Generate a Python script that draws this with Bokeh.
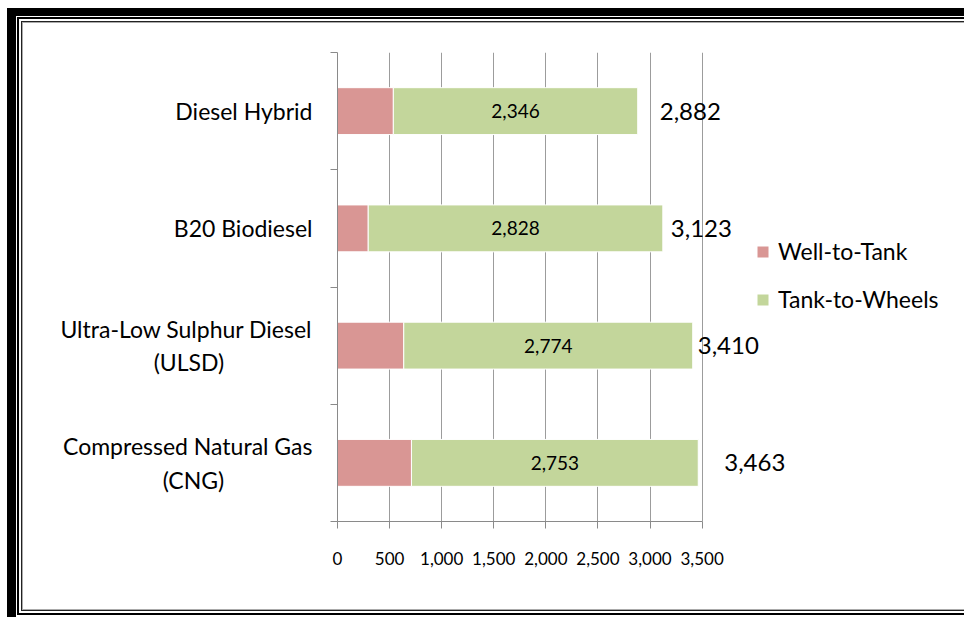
from bokeh.plotting import figure
from bokeh.models import Range1d, FixedTicker, Legend, LegendItem, ColumnDataSource
from bokeh.core.properties import value
from bokeh.embed import file_html
from bokeh.resources import INLINE

# ---- data ----
categories = [["Compressed Natural Gas", "(CNG)"],
              ["Ultra-Low Sulphur Diesel", "(ULSD)"],
              ["B20 Biodiesel"],
              ["Diesel Hybrid"]]
well_to_tank = [710, 636, 295, 536]
tank_to_wheels = [2753, 2774, 2828, 2346]
totals = [3463, 3410, 3123, 2882]
series_names = ["Well-to-Tank", "Tank-to-Wheels"]
x_ticks = [0, 500, 1000, 1500, 2000, 2500, 3000, 3500]
x_tick_labels = ["0", "500", "1,000", "1,500", "2,000", "2,500", "3,000", "3,500"]

# ---- styles ----
colors = ["#d99694", "#c3d69b"]
total_label_dx = [26, 5, 8, 22]
second_line_pad = [15, 15, 0, 0]   # no-break spaces that centre the 2nd line under the 1st
FONT = "Lato"
GRID = "#9c9c9c"
AXIS = "#8a8a8a"

def label_text(lines, pad):
    if len(lines) == 1:
        return lines[0]
    return lines[0] + "\n" + lines[1] + "\u00a0" * pad

ys = list(range(len(categories)))
src = ColumnDataSource(dict(
    y=ys,
    wtt=well_to_tank,
    ttw=tank_to_wheels,
    stack=[a + b for a, b in zip(well_to_tank, tank_to_wheels)],
    mid=[a + b / 2 for a, b in zip(well_to_tank, tank_to_wheels)],
    ttw_txt=[f"{v:,}" for v in tank_to_wheels],
    total=totals,
    total_txt=[f"{v:,}" for v in totals],
    dx=total_label_dx,
))

W, H = 964, 617
FL, FT, FB = 337, 52, 521
frame_w = W - FL
x_end = x_ticks[-1] / 364.6 * frame_w

# decorative double frame drawn as CSS background layers of the figure element
rects = [  # (x, y, w, h, color)
    (7, 8, 9, H - 8, "#000"),
    (7, 8, W - 7, 8, "#000"),
    (17, 17, 2, 598, "#000"),
    (17, 17, W - 17, 2, "#000"),
    (17, 613, W - 17, 2, "#000"),
    (21, 21, 1, 590, "#222"),
    (22, 22, 1, 588, "#aaa"),
    (21, 21, W - 21, 1, "#222"),
    (22, 22, W - 22, 1, "#aaa"),
    (22, 609, W - 22, 1, "#aaa"),
    (21, 610, W - 21, 1, "#222"),
]
css = {
    "background-color": "white",
    "background-image": ", ".join(f"linear-gradient({c}, {c})" for *_, c in rects),
    "background-position": ", ".join(f"{x}px {y}px" for x, y, *_ in rects),
    "background-size": ", ".join(f"{w}px {h}px" for _, _, w, h, _ in rects),
    "background-repeat": "no-repeat",
}

p = figure(width=W, height=H, output_backend="svg", toolbar_location=None,
           x_range=Range1d(0, x_end), y_range=Range1d(-0.5, len(categories) - 0.5),
           min_border_left=FL, min_border_right=0,
           min_border_top=FT, min_border_bottom=H - FB, styles=css)
p.outline_line_color = None
p.background_fill_color = "white"
p.border_fill_color = None

r1 = p.hbar(y="y", left=0, right="wtt", height=0.4, source=src,
            fill_color=colors[0], line_color="white", line_width=1)
r2 = p.hbar(y="y", left="wtt", right="stack", height=0.4, source=src,
            fill_color=colors[1], line_color="white", line_width=1)

p.text(x="mid", y="y", text="ttw_txt", source=src, text_align="center",
       text_baseline="middle", text_font=value(FONT), text_font_size="19px",
       text_color="black")
p.text(x="total", y="y", text="total_txt", x_offset="dx", source=src, text_align="left",
       text_baseline="middle", text_font=value(FONT), text_font_size="24px",
       text_color="black")

# x axis
xa = p.xaxis[0]
xa.ticker = FixedTicker(ticks=x_ticks)
xa.bounds = (x_ticks[0], x_ticks[-1])
xa.major_label_overrides = {t: l for t, l in zip(x_ticks, x_tick_labels)}
xa.major_tick_out = 7
xa.major_tick_in = 0
xa.minor_tick_line_color = None
xa.axis_line_color = AXIS
xa.major_tick_line_color = AXIS
xa.major_label_text_font = FONT
xa.major_label_text_font_size = "17px"
xa.major_label_text_color = "black"
xa.major_label_standoff = 23

p.xgrid.ticker = FixedTicker(ticks=x_ticks)
p.xgrid.grid_line_color = GRID
p.xgrid.grid_line_width = 1
p.ygrid.visible = False

# y axis
ya = p.yaxis[0]
ya.ticker = FixedTicker(ticks=ys, minor_ticks=[y - 0.5 for y in ys] + [ys[-1] + 0.5])
ya.major_label_overrides = {y: label_text(c, n) for y, c, n in zip(ys, categories, second_line_pad)}
ya.major_tick_out = 0
ya.major_tick_in = 0
ya.minor_tick_out = 7
ya.minor_tick_in = 0
ya.minor_tick_line_color = AXIS
ya.axis_line_color = AXIS
ya.major_label_text_font = FONT
ya.major_label_text_font_size = "23px"
ya.major_label_text_color = "black"
ya.major_label_standoff = 18

legend = Legend(items=[LegendItem(label=series_names[0], renderers=[r1]),
                       LegendItem(label=series_names[1], renderers=[r2])],
                location=(418, 208), orientation="vertical",
                glyph_width=15, glyph_height=15, label_standoff=8,
                padding=0, margin=0, spacing=20, label_height=15,
                border_line_color=None, background_fill_alpha=0,
                label_text_font=FONT, label_text_font_size="23px",
                label_text_color="black")
p.add_layout(legend)

open("out.html", "w").write(file_html(p, INLINE))
